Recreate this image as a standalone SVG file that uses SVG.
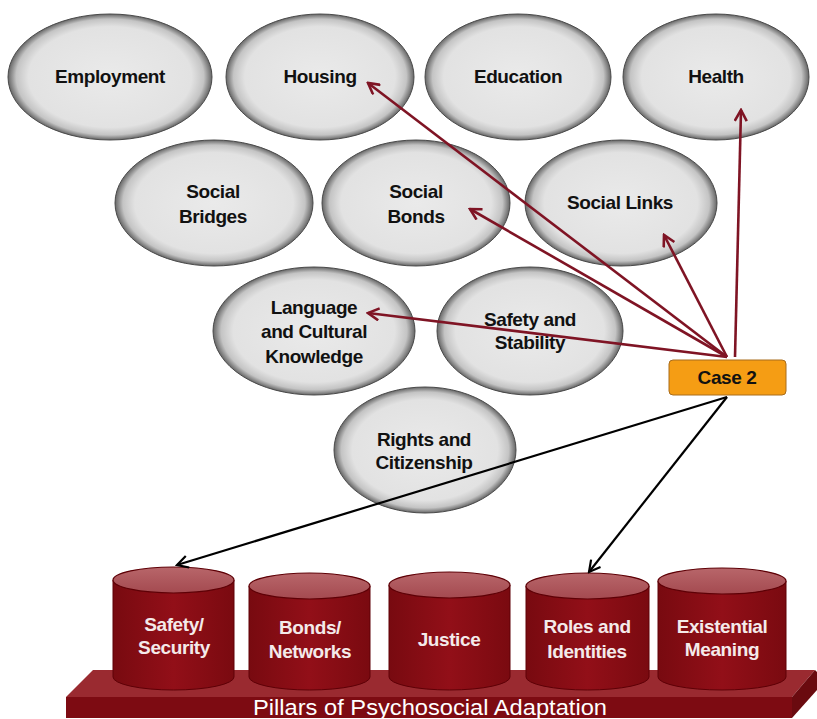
<svg xmlns="http://www.w3.org/2000/svg" width="817" height="719" viewBox="0 0 817 719">
<defs>
<radialGradient id="eg" cx="50%" cy="50%" r="50%">
<stop offset="0" stop-color="#eaeaea"/>
<stop offset="0.8" stop-color="#e2e2e2"/>
<stop offset="0.92" stop-color="#c4c4c4"/>
<stop offset="1" stop-color="#666666"/>
</radialGradient>
<linearGradient id="body" x1="0" y1="0" x2="1" y2="0">
<stop offset="0" stop-color="#780a10"/>
<stop offset="0.5" stop-color="#920f18"/>
<stop offset="1" stop-color="#7a0a10"/>
</linearGradient>
<linearGradient id="cap" x1="0" y1="0" x2="0" y2="1">
<stop offset="0" stop-color="#b8666a"/>
<stop offset="1" stop-color="#a44a50"/>
</linearGradient>
<marker id="ar" viewBox="0 0 14 14" refX="12" refY="7" markerWidth="14" markerHeight="14" markerUnits="userSpaceOnUse" orient="auto">
<path d="M1,1 L12,7 L1,13" fill="none" stroke="#7f1424" stroke-width="2.6"/>
</marker>
<marker id="ab" viewBox="0 0 14 14" refX="12" refY="7" markerWidth="14" markerHeight="14" markerUnits="userSpaceOnUse" orient="auto">
<path d="M1,1 L12,7 L1,13" fill="none" stroke="#000" stroke-width="2.2"/>
</marker>
</defs>
<style>
.el{fill:url(#eg);stroke:#4a4a4a;stroke-width:1}
.nt{font-family:"Liberation Sans",Arial,sans-serif;font-weight:bold;font-size:19px;fill:#111;text-anchor:middle;letter-spacing:-0.4px}
.pt{font-family:"Liberation Sans",Arial,sans-serif;font-weight:bold;font-size:19px;fill:#f4eaea;text-anchor:middle;letter-spacing:-0.4px}
.cb{fill:url(#body);stroke:#5e0006;stroke-width:1}
.cc{fill:url(#cap);stroke:#5e0006;stroke-width:1.2}
.rl{stroke:#7f1424;stroke-width:2.6;fill:none;marker-end:url(#ar)}
.bl{stroke:#000;stroke-width:2.2;fill:none;marker-end:url(#ab)}
</style>

<g id="base">
<polygon points="93,670 815,670 792,697 66,697" fill="#9a2a30"/>
<polygon points="815,670 817,672 817,690 792,718 792,697" fill="#6a0a0f"/>
<rect x="66" y="697" width="726" height="21" fill="#7d0b12"/>
<text x="430" y="715" font-family="'Liberation Sans',Arial,sans-serif" font-size="22" fill="#ffffff" text-anchor="middle" textLength="354" lengthAdjust="spacingAndGlyphs">Pillars of Psychosocial Adaptation</text>
</g>

<g id="employment"><ellipse class="el" cx="110" cy="77" rx="102" ry="63"/><text class="nt" x="110" y="83">Employment</text></g>
<g id="housing"><ellipse class="el" cx="320" cy="77" rx="94" ry="63"/><text class="nt" x="320" y="83">Housing</text></g>
<g id="education"><ellipse class="el" cx="518" cy="77" rx="93" ry="63"/><text class="nt" x="518" y="83">Education</text></g>
<g id="health"><ellipse class="el" cx="716" cy="77" rx="93" ry="63"/><text class="nt" x="716" y="83">Health</text></g>

<g id="social-bridges"><ellipse class="el" cx="214" cy="203" rx="99" ry="63"/><text class="nt" x="213" y="198">Social</text><text class="nt" x="213" y="223">Bridges</text></g>
<g id="social-bonds"><ellipse class="el" cx="416" cy="203" rx="94" ry="63"/><text class="nt" x="416" y="198">Social</text><text class="nt" x="416" y="223">Bonds</text></g>
<g id="social-links"><ellipse class="el" cx="621" cy="203" rx="96" ry="63"/><text class="nt" x="620" y="209">Social Links</text></g>

<g id="language"><ellipse class="el" cx="314" cy="331" rx="101" ry="64"/><text class="nt" x="314" y="314">Language</text><text class="nt" x="314" y="338">and Cultural</text><text class="nt" x="314" y="363">Knowledge</text></g>
<g id="safety-stability"><ellipse class="el" cx="530" cy="331" rx="93" ry="64"/><text class="nt" x="530" y="326">Safety and</text><text class="nt" x="530" y="349">Stability</text></g>
<g id="rights"><ellipse class="el" cx="425" cy="450" rx="91" ry="63"/><text class="nt" x="424" y="446">Rights and</text><text class="nt" x="424" y="469">Citizenship</text></g>

<g id="pillar-safety">
<path class="cb" d="M113,580 L113,677 A60.5,13 0 0 0 234,677 L234,580 Z"/>
<ellipse class="cc" cx="173.5" cy="580" rx="60.5" ry="13"/>
<text class="pt" x="174" y="631">Safety/</text><text class="pt" x="174" y="654">Security</text>
</g>
<g id="pillar-bonds">
<path class="cb" d="M249,586 L249,677 A60.5,13 0 0 0 370,677 L370,586 Z"/>
<ellipse class="cc" cx="309.5" cy="586" rx="60.5" ry="13"/>
<text class="pt" x="310" y="634">Bonds/</text><text class="pt" x="310" y="658">Networks</text>
</g>
<g id="pillar-justice">
<path class="cb" d="M389,585 L389,677 A60.5,13 0 0 0 510,677 L510,585 Z"/>
<ellipse class="cc" cx="449.5" cy="585" rx="60.5" ry="13"/>
<text class="pt" x="449" y="646">Justice</text>
</g>
<g id="pillar-roles">
<path class="cb" d="M526,586 L526,677 A61.5,13 0 0 0 649,677 L649,586 Z"/>
<ellipse class="cc" cx="587.5" cy="586" rx="61.5" ry="13"/>
<text class="pt" x="587" y="633">Roles and</text><text class="pt" x="587" y="658">Identities</text>
</g>
<g id="pillar-existential">
<path class="cb" d="M658,581 L658,677 A64,13 0 0 0 786,677 L786,581 Z"/>
<ellipse class="cc" cx="722" cy="581" rx="64" ry="13"/>
<text class="pt" x="722" y="633">Existential</text><text class="pt" x="722" y="656">Meaning</text>
</g>

<g id="connectors">
<line class="rl" x1="727" y1="357" x2="368" y2="83"/>
<line class="rl" x1="735" y1="357" x2="741" y2="110"/>
<line class="rl" x1="727" y1="357" x2="470" y2="209"/>
<line class="rl" x1="727" y1="357" x2="664" y2="235"/>
<line class="rl" x1="727" y1="357" x2="368" y2="313"/>
<line class="bl" x1="727" y1="397" x2="177" y2="565"/>
<line class="bl" x1="727" y1="397" x2="589" y2="572"/>
</g>

<g id="case2">
<rect x="669" y="360" width="117" height="35" rx="4" fill="#f59d14" stroke="#a86c1c" stroke-width="1"/>
<text class="nt" x="727" y="384" font-size="17">Case 2</text>
</g>
</svg>
